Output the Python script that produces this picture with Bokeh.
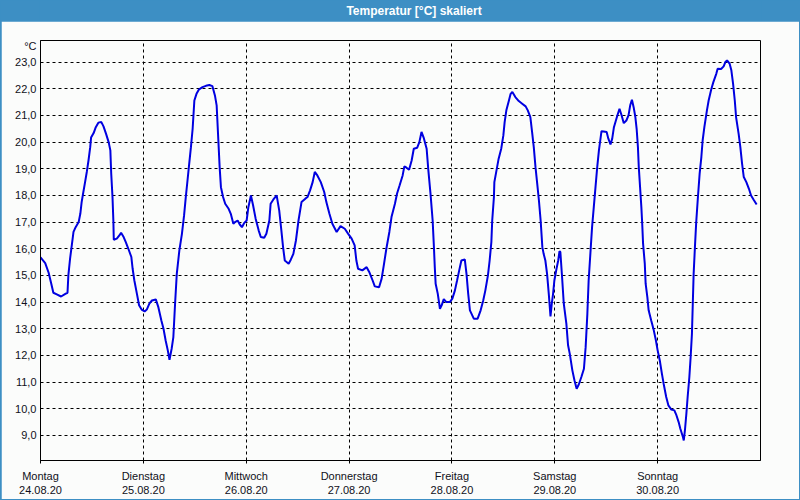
from bokeh.plotting import figure
from bokeh.layouts import column
from bokeh.models import FixedTicker, Range1d
from bokeh.embed import file_html
from bokeh.resources import INLINE
from bokeh.core.properties import value

title_text = "Temperatur [°C] skaliert"
unit_text = "°C"
day_names = ["Montag", "Dienstag", "Mittwoch", "Donnerstag", "Freitag", "Samstag", "Sonntag"]
day_dates = ["24.08.20", "25.08.20", "26.08.20", "27.08.20", "28.08.20", "29.08.20", "30.08.20"]
day_starts = [0, 24, 48, 72, 96, 120, 144]
y_ticks = list(range(9, 24))
unit_pos = 23.59

# hours since Monday 24.08.20 00:00, temperatures in °C
h1 = [0.0,1.1,1.9,2.5,3.0,3.8,4.8,5.8,6.3,6.5,6.9,7.3,7.7,8.2,8.9,9.3,9.6,10.0,10.4,10.8,11.2,11.6,11.8,12.4,12.9,13.5,14.2,14.7,15.3,15.9,16.3,16.5,16.8,17.0,17.1,17.8,18.4,18.8,19.4,19.9,20.5,21.2,21.5,21.9,22.5,23.0,23.6]
t1 = [15.68,15.46,15.1,14.7,14.35,14.29,14.21,14.31,14.35,15.0,15.63,16.13,16.63,16.81,17.0,17.32,17.75,18.13,18.5,18.88,19.31,19.81,20.17,20.34,20.56,20.73,20.75,20.59,20.31,20.0,19.69,18.82,17.94,17.06,16.34,16.38,16.5,16.6,16.44,16.25,16.0,15.69,15.25,14.81,14.31,13.88,13.72]
h2 = [24.3,24.8,25.4,26.0,26.9,27.5,28.2,28.7,29.2,29.7,30.1,30.6,31.0,31.4,31.8,32.4,33.0,33.5,33.9,34.3,34.7,35.1,35.5,35.9,36.4,37.0,37.8,38.6,39.4,40.1,40.7,41.1,41.5,41.8,42.1,42.6,43.1,43.9,44.4,45.0,45.4,46.0,46.5,47.0,47.5]
t2 = [13.65,13.72,13.94,14.06,14.1,13.81,13.31,13.0,12.56,12.19,11.84,12.25,12.69,13.94,15.06,15.94,16.56,17.25,17.94,18.56,19.19,19.81,20.5,21.56,21.81,21.98,22.06,22.11,22.14,22.1,21.75,21.38,20.06,19.06,18.31,17.94,17.69,17.5,17.31,16.94,17.0,17.06,16.91,16.81,16.96]
h3 = [48.1,48.5,49.1,49.6,50.2,50.9,51.4,52.2,52.7,53.4,53.7,54.3,55.1,55.7,56.2,56.6,57.0,57.9,58.4,59.0,59.6,60.2,60.9,61.8,62.3,62.9,63.5,64.0,64.6,65.4,66.2,66.7,67.4,68.1,69.1,70.0,71.0,71.8]
t3 = [17.06,17.56,18.0,17.63,17.13,16.69,16.44,16.41,16.56,17.06,17.69,17.84,18.0,17.44,16.69,16.06,15.56,15.44,15.59,15.81,16.31,17.06,17.75,17.88,17.94,18.19,18.5,18.88,18.75,18.5,18.13,17.75,17.32,16.94,16.63,16.85,16.75,16.56]
h4 = [72.6,73.3,73.7,74.1,75.1,76.1,76.7,77.5,78.0,79.0,79.6,80.1,80.7,81.4,81.9,82.7,83.2,83.8,84.5,84.9,85.4,86.0,86.6,87.1,87.9,88.4,88.9,89.4,90.1,90.5,91.0,91.5,91.8,92.0,92.2,92.7,93.2,93.6,94.1,94.7,95.5]
t4 = [16.38,16.13,15.56,15.25,15.19,15.31,15.13,14.81,14.59,14.56,14.88,15.38,16.0,16.63,17.19,17.69,18.07,18.38,18.75,19.09,19.04,18.96,19.31,19.75,19.79,20.0,20.38,20.17,19.75,18.94,18.07,17.06,16.06,15.31,14.69,14.31,13.75,13.88,14.11,14.0,14.0]
h5 = [96.1,96.7,97.2,97.7,98.2,99.0,99.4,99.8,100.2,101.1,102.0,102.7,103.3,103.8,104.4,104.8,105.2,105.4,105.8,105.9,106.4,106.9,107.5,108.0,108.3,108.7,109.3,109.7,110.1,110.8,111.6,112.4,113.2,113.7,114.3,114.7,115.1,115.5,115.9,116.3,116.7,117.1,117.4,117.8,118.2,118.6,119.0,119.3,119.6,119.9]
t5 = [14.13,14.44,14.81,15.19,15.56,15.6,15.06,14.31,13.69,13.38,13.38,13.69,14.06,14.44,15.0,15.56,16.25,17.06,17.94,18.5,18.94,19.38,19.75,20.25,20.75,21.19,21.56,21.81,21.88,21.69,21.54,21.44,21.34,21.19,20.94,20.38,19.81,19.06,18.44,17.81,17.06,16.06,15.81,15.56,15.06,14.31,13.46,13.94,14.31,14.81]
h6 = [120.4,120.8,121.1,121.3,121.7,122.1,122.7,123.1,123.5,124.1,124.6,125.1,125.6,126.2,126.8,127.2,127.6,127.9,128.3,128.7,129.1,129.5,129.9,130.3,130.9,131.4,132.1,132.5,133.0,133.4,133.8,134.6,135.1,135.6,136.1,136.7,137.2,137.6,138.0,138.4,138.8,139.1,139.4,139.6,139.9,140.2,140.4,140.6,141.0,141.2,141.6,141.9,142.5,143.1,143.6]
t6 = [15.25,15.56,15.91,15.88,14.94,13.94,13.19,12.38,12.06,11.44,11.06,10.75,10.91,11.19,11.5,12.31,13.56,14.81,15.81,16.81,17.56,18.31,19.06,19.69,20.41,20.4,20.38,20.13,19.91,20.13,20.56,21.0,21.25,21.0,20.71,20.81,21.0,21.38,21.59,21.31,20.94,20.5,19.81,19.06,18.31,17.56,16.94,16.19,15.44,14.69,14.19,13.69,13.31,12.94,12.56]
h7 = [144.0,144.5,145.0,145.4,146.0,146.5,147.2,147.9,148.4,148.9,149.3,149.9,150.1,150.4,150.7,151.0,151.4,151.7,152.0,152.2,152.4,152.7,153.0,153.4,153.8,154.2,154.5,154.9,155.5,155.9,156.5,157.0,157.7,158.0,158.8,159.4,159.8,160.2,160.8,161.2,161.6,162.0,162.3,162.9,163.3,163.7,164.1,164.7,165.3,165.8,166.4,167.1]
t7 = [12.19,11.81,11.31,10.94,10.44,10.13,9.97,9.94,9.75,9.5,9.25,8.94,8.81,9.25,9.81,10.44,11.19,11.94,12.81,13.94,15.06,16.06,17.0,17.94,18.82,19.44,20.06,20.56,21.19,21.56,21.97,22.25,22.57,22.75,22.74,22.84,23.0,23.06,22.94,22.69,22.19,21.56,20.94,20.31,19.81,19.19,18.69,18.5,18.25,18.0,17.84,17.66]

hours = h1 + h2 + h3 + h4 + h5 + h6 + h7
temps = t1 + t2 + t3 + t4 + t5 + t6 + t7

BAR = "#3d8fc4"
BG = "#fbfcfb"
FONT = "Liberation Sans"
TXT = "#101020"

# title bar
tb = figure(width=800, height=21, x_range=Range1d(0, 800), y_range=Range1d(0, 21),
            toolbar_location=None, output_backend="svg", min_border=0,
            min_border_left=0, min_border_right=0, min_border_top=0, min_border_bottom=0)
tb.axis.visible = False
tb.grid.visible = False
tb.outline_line_color = None
tb.background_fill_color = BAR
tb.border_fill_color = BAR
tb.text(x=[415], y=[10.5], text=[title_text], text_color="white",
        text_font=value(FONT), text_font_style="bold", text_font_size="12px",
        text_align="center", text_baseline="middle")

p = figure(width=798, height=478, x_range=Range1d(0, 168), y_range=Range1d(8.06, 23.81),
           toolbar_location=None, output_backend="svg", margin=(0, 1, 1, 1),
           min_border_left=39, min_border_right=39, min_border_top=19, min_border_bottom=39)
p.background_fill_color = BG
p.border_fill_color = BG
p.outline_line_color = "black"
p.outline_line_width = 1

p.line(hours, temps, line_color="#0000e0", line_width=2)

p.xaxis.ticker = FixedTicker(ticks=day_starts)
p.xaxis.major_label_overrides = {d: f"{n}\n{dt}" for d, n, dt in zip(day_starts, day_names, day_dates)}
p.xgrid.ticker = FixedTicker(ticks=day_starts)
p.yaxis.ticker = FixedTicker(ticks=y_ticks + [unit_pos])
overrides = {v: f"{v},0" for v in y_ticks}
overrides[unit_pos] = unit_text
p.yaxis.major_label_overrides = overrides
p.ygrid.ticker = FixedTicker(ticks=y_ticks)

for ax in (p.xaxis[0], p.yaxis[0]):
    ax.axis_line_color = "black"
    ax.minor_tick_line_color = None
    ax.major_label_text_font = FONT
    ax.major_label_text_font_size = "11px"
    ax.major_label_text_color = TXT
p.xaxis.major_tick_in = 0
p.xaxis.major_tick_out = 3
p.xaxis.major_tick_line_color = "black"
p.xaxis.major_label_standoff = 6
p.yaxis.major_tick_line_color = None
p.yaxis.major_tick_in = 0
p.yaxis.major_tick_out = 0
p.yaxis.major_label_standoff = 4

for g in (p.xgrid[0], p.ygrid[0]):
    g.grid_line_color = "black"
    g.grid_line_dash = "3 3"
    g.grid_line_width = 1

layout = column(tb, p, spacing=0, styles={"background-color": BAR})
open("out.html", "w").write(file_html(layout, INLINE))
